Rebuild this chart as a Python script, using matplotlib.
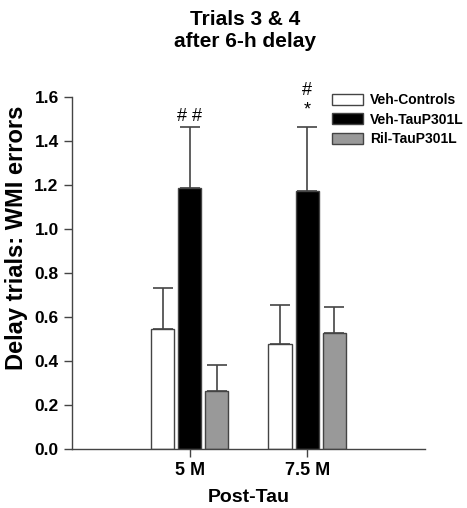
import numpy as np
import matplotlib.pyplot as plt

plt.rcParams['font.family'] = ['Liberation Sans', 'DejaVu Sans']
plt.rcParams['font.weight'] = 'bold'

# data
timepoints = ["5 M", "7.5 M"]
groups = ["Veh-Controls", "Veh-TauP301L", "Ril-TauP301L"]
means = {
    "Veh-Controls": [0.547, 0.477],
    "Veh-TauP301L": [1.185, 1.173],
    "Ril-TauP301L": [0.262, 0.527],
}
sems = {
    "Veh-Controls": [0.186, 0.178],
    "Veh-TauP301L": [0.279, 0.291],
    "Ril-TauP301L": [0.118, 0.118],
}
colors = ["white", "black", "#999999"]
marks = ["# #", "#\n*"]
mark_gap = [0.01, 0.04]

fig = plt.figure(figsize=(4.67, 5.08), dpi=100)
ax = fig.add_axes([0.154, 0.116, 0.756, 0.693])

x = np.arange(len(timepoints))
width = 0.2
offsets = [-0.23, 0, 0.23]

for i, g in enumerate(groups):
    ax.bar(x + offsets[i], means[g], width, color=colors[i], edgecolor="#444444",
           linewidth=1, label=g, zorder=2)
    # only the upper half of the error bar
    ax.errorbar(x + offsets[i], means[g], yerr=[np.zeros(len(x)), sems[g]],
                fmt="none", ecolor="#444444", elinewidth=1.2, capsize=7.2,
                capthick=1.2, zorder=1)

# significance marks above the TauP301L bars
tops = np.array(means["Veh-TauP301L"]) + np.array(sems["Veh-TauP301L"])
for xi, t, m, gap in zip(x, tops, marks, mark_gap):
    ax.text(xi, t + gap, m, ha="center", va="bottom", fontsize=13,
            fontweight="normal", linespacing=1.2)

ax.set_xlim(-1, 2)
ax.set_ylim(0, 1.6)
ax.set_yticks(np.arange(0, 1.61, 0.2))
ax.set_yticklabels([f"{v:.1f}" for v in np.arange(0, 1.61, 0.2)])
ax.set_xticks(x)
ax.set_xticklabels(timepoints)
ax.tick_params(axis="y", labelsize=12.5, length=6, width=1, color="#444444")
ax.tick_params(axis="x", labelsize=13, length=6, width=1, color="#444444")
ax.spines["top"].set_visible(False)
ax.spines["right"].set_visible(False)
for s in ["left", "bottom"]:
    ax.spines[s].set_color("#444444")
    ax.spines[s].set_linewidth(1)

ax.set_xlabel("Post-Tau", fontsize=14, fontweight="bold", labelpad=7)
ax.set_ylabel("Delay trials: WMI errors", fontsize=17, fontweight="bold")
ax.yaxis.set_label_coords(-0.125, 0.6)
fig.text(0.525, 0.98, "Trials 3 & 4\nafter 6-h delay", ha="center", va="top",
         fontsize=15, fontweight="bold", linespacing=1.2)

ax.legend(loc="upper left", bbox_to_anchor=(0.721, 1.027), frameon=False,
          fontsize=10, handlelength=2.2, handleheight=0.85, borderaxespad=0,
          handletextpad=0.55, labelspacing=0.4)

fig.savefig("out.png", dpi=100)
